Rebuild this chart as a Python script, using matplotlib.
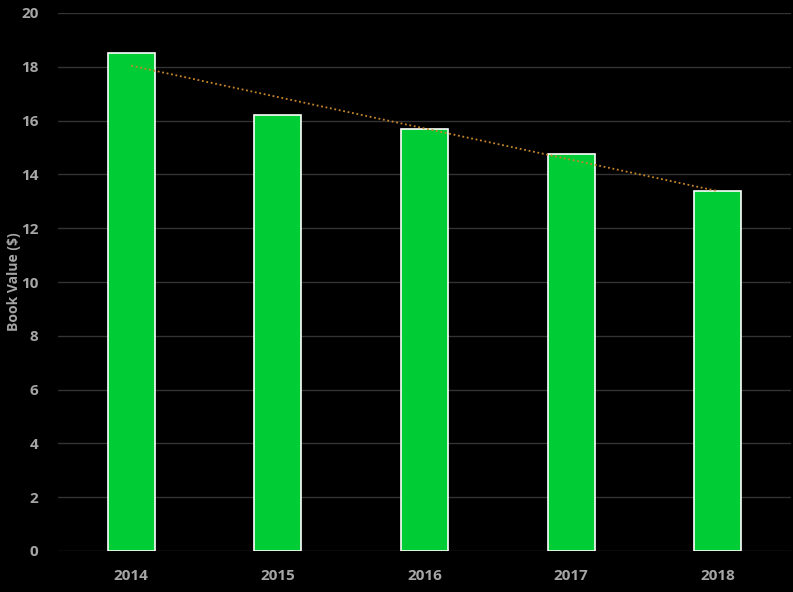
import matplotlib
matplotlib.use("Agg")
import matplotlib.pyplot as plt
import numpy as np

years = ["2014", "2015", "2016", "2017", "2018"]
book_value = [18.5, 16.2, 15.7, 14.75, 13.4]
y_ticks = [0, 2, 4, 6, 8, 10, 12, 14, 16, 18, 20]

plt.rcParams['font.family'] = ['Open Sans', 'DejaVu Sans']

fig = plt.figure(figsize=(7.93, 5.92), dpi=100, facecolor='black')
ax = fig.add_axes([58/793, 1-551/592, 733/793, 538/592], facecolor='black')

x = np.arange(len(years))
ax.bar(x, book_value, width=0.32, color='#00cc36', edgecolor='white', linewidth=1.2, zorder=3)

coef = np.polyfit(x, book_value, 1)
ax.plot(x, np.polyval(coef, x), linestyle=(0, (1, 1.5)), color='#c8862a', linewidth=1.3, zorder=4)

ax.set_xlim(-0.5, 4.5)
ax.set_ylim(0, 20)
ax.set_yticks(y_ticks)
ax.set_xticks(x)
ax.set_xticklabels(years)
ax.yaxis.grid(True, color='#333333', linewidth=1, zorder=0)
ax.set_axisbelow(True)
for s in ax.spines.values():
    s.set_visible(False)
ax.tick_params(axis='both', length=0, colors='#a6a6a6', labelsize=11)
ax.tick_params(axis='y', pad=14)
ax.tick_params(axis='x', pad=13)
for lbl in ax.get_xticklabels() + ax.get_yticklabels():
    lbl.set_fontweight('bold')
fig.text(14/793, 1-282/592, 'Book Value ($)', color='#a6a6a6', fontsize=10, fontweight='bold',
         rotation=90, ha='center', va='center')

fig.savefig('out.png', dpi=100, facecolor='black')
